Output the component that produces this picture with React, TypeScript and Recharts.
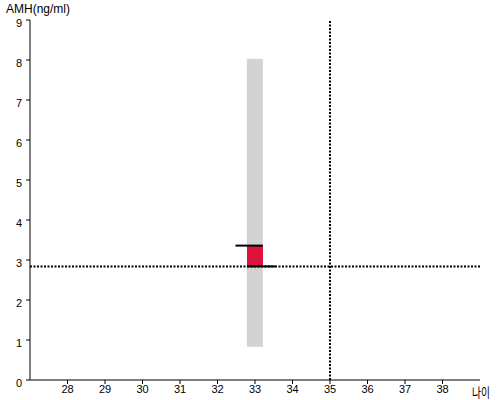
import React from 'react'
import {
  ComposedChart,
  Bar,
  Line,
  XAxis,
  YAxis,
  ReferenceLine,
} from 'recharts'

// 나이 축 / AMH 축
const ageTicks = [28, 29, 30, 31, 32, 33, 34, 35, 36, 37, 38]
const amhTicks = [0, 1, 2, 3, 4, 5, 6, 7, 8, 9]

// 정상 범위 (회색) 와 측정 구간 (빨강)
const rangeAges = [33]
const normalLow = [0.83]
const normalHigh = [8.03]
const measuredLow = [2.84]
const measuredHigh = [3.36]

// 검은 가로선
const upperMarkAges = [32.48, 33.21]
const lowerMarkAges = [32.79, 33.55]

// 기준 점선
const myAge = 35
const myAmh = 2.84

const barData = rangeAges.map((age, i) => ({
  age,
  normal: [normalLow[i], normalHigh[i]],
  measured: [measuredLow[i], measuredHigh[i]],
}))

const upperMark = upperMarkAges.map((age) => ({ age, amh: measuredHigh[0] }))
const lowerMark = lowerMarkAges.map((age) => ({ age, amh: measuredLow[0] }))

const font = 'Arial, "Liberation Sans", sans-serif'
const BAR_W = 16

// 막대 중심에 맞춰 폭 16px 로 그림
function WideBar(props: any) {
  const { x, y, width, height, fill } = props
  if (height == null || isNaN(height)) return null
  const cx = x + width / 2
  return <rect x={cx - BAR_W / 2} y={y} width={BAR_W} height={height} fill={fill} />
}

export default function App() {
  return (
    <div style={{ position: 'absolute', left: 0, top: 0, width: 500, height: 400, background: '#fff' }}>
      <ComposedChart
        width={500}
        height={400}
        data={barData}
        margin={{ top: 20, right: 20, bottom: 0, left: 0 }}
      >
        <XAxis
          dataKey="age"
          type="number"
          domain={[27, 39]}
          ticks={ageTicks}
          allowDataOverflow
          height={20}
          tickSize={4}
          tickMargin={1}
          stroke="#000"
          tick={{ fill: '#000', fontSize: 11, fontFamily: font }}
        />
        <XAxis xAxisId="m" dataKey="age" type="number" domain={[27, 39]} hide />
        <YAxis
          type="number"
          domain={[0, 9]}
          ticks={amhTicks}
          width={30}
          tickSize={4}
          tickMargin={4}
          stroke="#000"
          tick={{ fill: '#000', fontSize: 11, fontFamily: font, dy: 3 }}
        />
        <Bar dataKey="normal" fill="#d3d3d3" shape={WideBar} isAnimationActive={false} />
        <Bar xAxisId="m" dataKey="measured" fill="#dc143c" shape={WideBar} isAnimationActive={false} />
        <Line
          data={upperMark}
          dataKey="amh"
          stroke="#000"
          strokeWidth={2}
          dot={false}
          activeDot={false}
          isAnimationActive={false}
        />
        <Line
          data={lowerMark}
          dataKey="amh"
          stroke="#000"
          strokeWidth={2}
          dot={false}
          activeDot={false}
          isAnimationActive={false}
        />
        <ReferenceLine x={myAge} stroke="#000" strokeWidth={2} strokeDasharray="2 1.5" />
        <ReferenceLine y={myAmh} stroke="#000" strokeWidth={2} strokeDasharray="2 1.5" />
      </ComposedChart>
      <div style={{ position: 'absolute', left: 6, top: 2, fontSize: 12, fontFamily: font, color: '#000' }}>
        AMH(ng/ml)
      </div>
      <div
        style={{
          position: 'absolute',
          left: 472,
          top: 382,
          fontSize: 13,
          fontFamily: '"Noto Sans CJK KR", sans-serif',
          color: '#000',
          transform: 'scaleX(0.75)',
          transformOrigin: 'left top',
          whiteSpace: 'nowrap',
        }}
      >
        나이
      </div>
    </div>
  )
}
